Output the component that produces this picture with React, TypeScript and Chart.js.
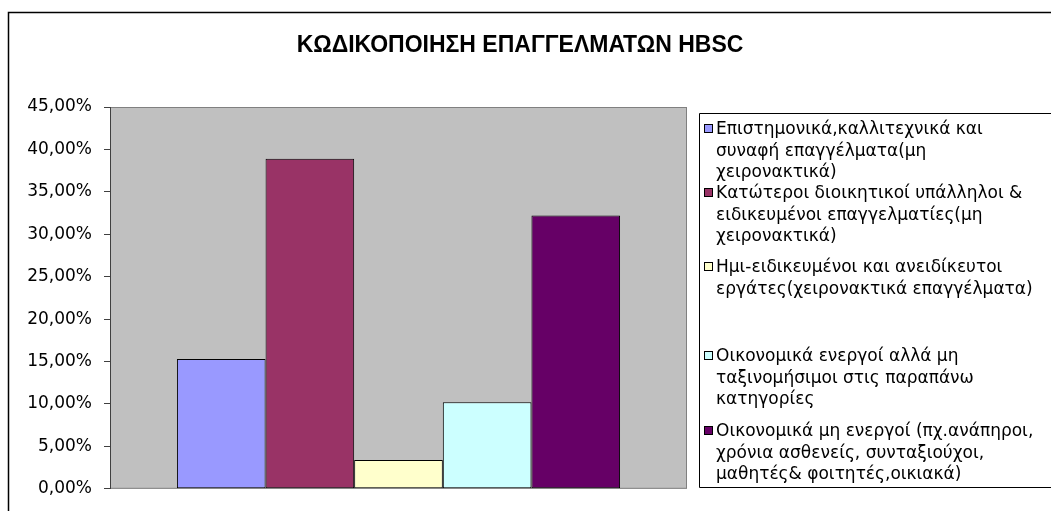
import React, { useEffect, useRef } from "react";
import { Chart, registerables } from "chart.js";

Chart.register(...registerables);

const chartTitle = "ΚΩΔΙΚΟΠΟΙΗΣΗ ΕΠΑΓΓΕΛΜΑΤΩΝ HBSC";
const categories = [""];
const seriesLabels: string[][] = [
  ["Επιστημονικά,καλλιτεχνικά και", "συναφή επαγγέλματα(μη", "χειρονακτικά)"],
  ["Κατώτεροι διοικητικοί υπάλληλοι &", "ειδικευμένοι επαγγελματίες(μη", "χειρονακτικά)"],
  ["Ημι-ειδικευμένοι και ανειδίκευτοι", "εργάτες(χειρονακτικά επαγγέλματα)"],
  ["Οικονομικά ενεργοί αλλά μη", "ταξινομήσιμοι στις παραπάνω", "κατηγορίες"],
  ["Οικονομικά μη ενεργοί (πχ.ανάπηροι,", "χρόνια ασθενείς, συνταξιούχοι,", "μαθητές& φοιτητές,οικιακά)"],
];
const seriesValues = [0.153, 0.389, 0.034, 0.102, 0.322];
const seriesColors = ["#9999FF", "#993366", "#FFFFCC", "#CCFFFF", "#660066"];
const yMin = 0;
const yMax = 0.45;
const yStep = 0.05;

const FONT = "'DejaVu Sans', 'Liberation Sans', Arial, sans-serif";
const TITLE_FONT = "'Liberation Sans', Arial, sans-serif";

const fmtPct = (v: number) => (v * 100).toFixed(2).replace(".", ",") + "%";

const framePlugin = {
  id: "frame",
  beforeDraw(chart: any) {
    const { ctx, chartArea } = chart;
    const { left, top, right, bottom } = chartArea;
    ctx.save();
    ctx.fillStyle = "#ffffff";
    ctx.fillRect(0, 0, chart.width, chart.height);
    // outer chart border (left and top visible)
    ctx.strokeStyle = "#000000";
    ctx.lineWidth = 1.5;
    ctx.beginPath();
    ctx.moveTo(8.5, chart.height + 2);
    ctx.lineTo(8.5, 12.5);
    ctx.lineTo(chart.width + 2, 12.5);
    ctx.stroke();
    // plot area
    ctx.fillStyle = "#C0C0C0";
    ctx.fillRect(left, top, right - left, bottom - top);
    ctx.strokeStyle = "#808080";
    ctx.lineWidth = 1;
    ctx.strokeRect(left + 0.5, top + 0.5, right - left - 1, bottom - top - 1);
    ctx.restore();
  },
  afterDraw(chart: any) {
    const { ctx } = chart;
    ctx.save();
    // title
    ctx.fillStyle = "#000000";
    ctx.font = `bold 23px ${TITLE_FONT}`;
    ctx.textAlign = "center";
    ctx.textBaseline = "middle";
    ctx.fillText(chartTitle, 520, 46);
    // legend box
    const boxLeft = 699;
    const boxTop = 113;
    const boxBottom = 487;
    ctx.strokeStyle = "#000000";
    ctx.lineWidth = 1;
    ctx.beginPath();
    ctx.moveTo(chart.width + 2, boxTop + 0.5);
    ctx.lineTo(boxLeft + 0.5, boxTop + 0.5);
    ctx.lineTo(boxLeft + 0.5, boxBottom + 0.5);
    ctx.lineTo(chart.width + 2, boxBottom + 0.5);
    ctx.stroke();
    const entryTops = [129, 193, 267, 356, 431];
    const lineH = 21.5;
    ctx.font = `17px ${FONT}`;
    ctx.textAlign = "left";
    ctx.textBaseline = "middle";
    chart.data.datasets.forEach((ds: any, i: number) => {
      const y0 = entryTops[i];
      ctx.fillStyle = ds.backgroundColor;
      ctx.fillRect(704, y0 - 4, 8, 8);
      ctx.strokeStyle = "#000000";
      ctx.strokeRect(704.5, y0 - 4.5, 8, 8);
      ctx.fillStyle = "#000000";
      const lines: string[] = ds.legendLines;
      lines.forEach((t, j) => ctx.fillText(t, 716, y0 + j * lineH + 1));
    });
    ctx.restore();
  },
};

export default function App() {
  const ref = useRef<HTMLCanvasElement | null>(null);
  useEffect(() => {
    if (!ref.current) return;
    const chart = new Chart(ref.current, {
      type: "bar",
      data: {
        labels: categories,
        datasets: seriesValues.map((v, i) => ({
          label: seriesLabels[i].join(" "),
          legendLines: seriesLabels[i],
          data: [v],
          backgroundColor: seriesColors[i],
          borderColor: "#000000",
          borderWidth: 1,
          borderSkipped: false,
          categoryPercentage: 0.768,
          barPercentage: 1,
        })) as any,
      },
      options: {
        animation: false,
        responsive: false,
        devicePixelRatio: 1,
        layout: { padding: { left: 0, right: 364, top: 107, bottom: 22 } },
        plugins: {
          legend: { display: false },
          title: { display: false },
          tooltip: { enabled: false },
        },
        scales: {
          x: { display: false },
          y: {
            min: yMin,
            max: yMax,
            afterFit: (s: any) => {
              s.width = 110;
            },
            border: { display: true, color: "#404040", width: 1 },
            grid: {
              drawOnChartArea: false,
              drawTicks: true,
              tickLength: 6,
              color: "#404040",
            },
            ticks: {
              stepSize: yStep,
              padding: 12,
              color: "#000000",
              font: { family: FONT, size: 17 },
              callback: (v: any) => fmtPct(Number(v)),
            },
          },
        },
      },
      plugins: [framePlugin],
    });
    return () => chart.destroy();
  }, []);
  return (
    <div style={{ position: "fixed", left: 0, top: 0, width: 1051, height: 511 }}>
      <canvas ref={ref} width={1051} height={511} style={{ display: "block" }} />
    </div>
  );
}
